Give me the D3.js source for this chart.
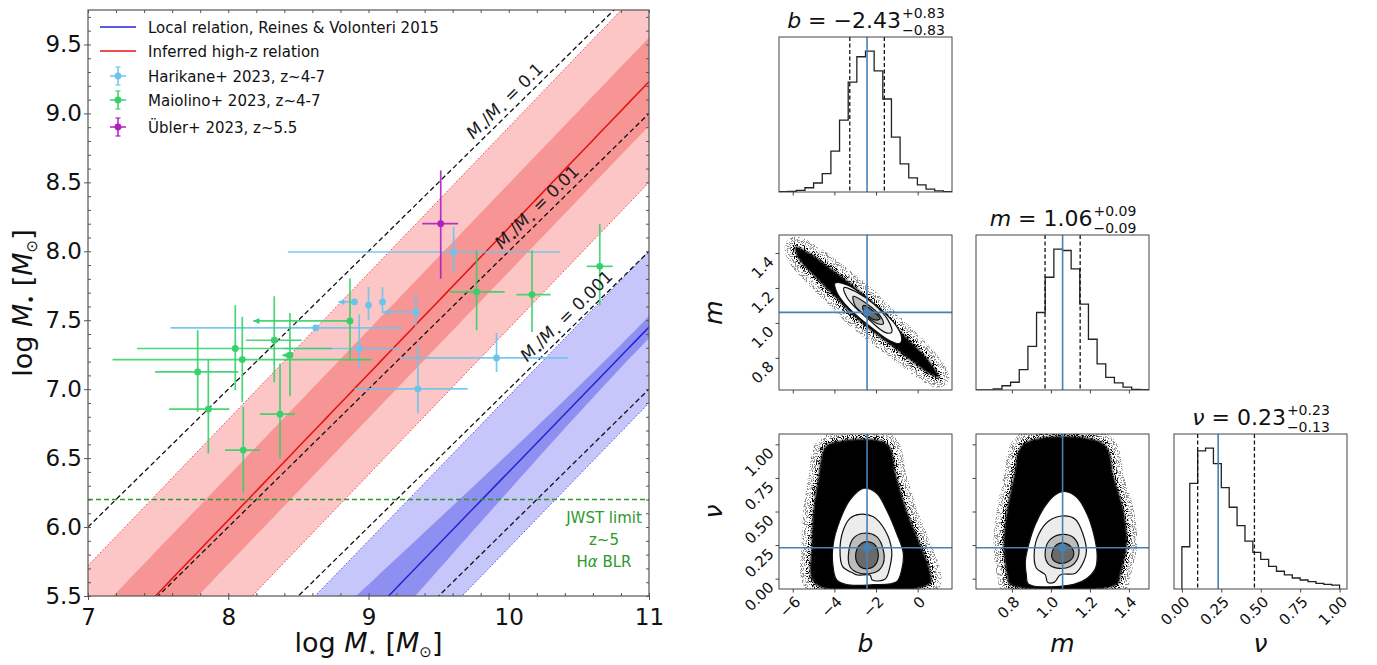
<!DOCTYPE html>
<html>
<head>
<meta charset="utf-8">
<script src="https://cdn.jsdelivr.net/npm/d3@7"></script>
<style>
body { margin: 0; background: #fff; }
svg text { font-family: "DejaVu Sans", sans-serif; }
</style>
</head>
<body>
<svg id="fig" width="1377" height="665"></svg>
<script>
// ---------- left panel data ----------
const xDomain = [7, 11];
const yDomain = [5.5, 9.75];
const xMajor = [7, 8, 9, 10, 11];
const yMajor = [5.5, 6.0, 6.5, 7.0, 7.5, 8.0, 8.5, 9.0, 9.5];

// inferred high-z relation  logMbh = m*logM* + b
const highzFit = [1.06, -2.43];
const highzBand = [0.32, 0.73];     // inner / outer half widths (dex)
// Reines & Volonteri 2015: alpha, beta, pivot, alpha err, beta err, scatter
const localFit = [7.45, 1.05, 11, 0.08, 0.11, 0.55];

const ratioOffsets = [-1, -2, -3, -4];
const ratioLabels = ["0.1", "0.01", "0.001"];
const ratioLabelX = [10.03, 10.26, 10.47];
const jwstLimit = 6.2;
const jwstText = ["JWST limit", "z~5", "Hα BLR"];

// points: [x, y, xlo, xhi, ylo, yhi, xuplim]
const harikane = [
  [9.607, 7.995, 8.425, 10.367, 7.85, 8.176, 0],
  [8.90, 7.633, 8.785, 8.90, 7.633, 7.633, 1],
  [9.00, 7.609, 9.00, 9.00, 7.50, 7.741, 0],
  [9.10, 7.633, 9.10, 9.10, 7.55, 7.74, 0],
  [9.338, 7.56, 9.106, 9.338, 7.45, 7.69, 1],
  [8.624, 7.444, 7.589, 9.238, 7.444, 7.444, 0],
  [8.934, 7.295, 8.394, 9.217, 7.15, 7.543, 0],
  [9.913, 7.227, 9.238, 10.42, 7.125, 7.408, 0],
  [9.352, 7.002, 8.90, 9.707, 6.824, 7.319, 0]
];
const maiolino = [
  [7.782, 7.125, 7.478, 8.072, 6.836, 7.428, 0],
  [7.858, 6.855, 7.578, 8.008, 6.534, 7.215, 0],
  [8.050, 7.295, 7.35, 8.737, 6.993, 7.609, 0],
  [8.100, 7.215, 7.175, 9.023, 6.908, 7.524, 0],
  [8.328, 7.355, 8.127, 8.524, 7.049, 7.674, 0],
  [8.440, 7.246, 8.385, 8.440, 6.949, 7.553, 1],
  [8.868, 7.495, 8.179, 8.868, 7.210, 7.802, 1],
  [8.369, 6.819, 8.226, 8.476, 6.498, 7.186, 0],
  [8.107, 6.558, 7.977, 8.226, 6.25, 6.872, 0],
  [9.771, 7.705, 9.581, 9.971, 7.428, 8.007, 0],
  [10.166, 7.686, 10.055, 10.298, 7.415, 8.007, 0],
  [10.649, 7.891, 10.556, 10.741, 7.609, 8.20, 0]
];
const ubler = [
  [9.515, 8.20, 9.383, 9.639, 7.802, 8.587, 0]
];

const legendNames = ["Local relation, Reines & Volonteri 2015", "Inferred high-z relation",
  "Harikane+ 2023, z~4-7", "Maiolino+ 2023, z~4-7", "Übler+ 2023, z~5.5"];

// ---------- corner data ----------
const bRange = [-6.66, 1.65];
const mRange = [0.616, 1.503];
const nuRangeX = [-0.05, 1.047];
const nuRangeY = [-0.077, 1.077];
const nuHistRange = [0, 1];

const bHist = [0.002, 0.005, 0.012, 0.03, 0.064, 0.13, 0.29, 0.51, 0.78, 0.96, 1.0, 0.86, 0.66, 0.39, 0.2, 0.1, 0.05, 0.02, 0.008, 0.003];
const mHist = [0, 0, 0.007, 0.03, 0.055, 0.145, 0.31, 0.55, 0.80, 1.0, 0.99, 0.86, 0.61, 0.36, 0.185, 0.09, 0.05, 0.02, 0.005, 0.002];
const nuHist = [0.30, 0.75, 0.98, 1.0, 0.89, 0.72, 0.58, 0.45, 0.34, 0.26, 0.21, 0.16, 0.126, 0.10, 0.078, 0.064, 0.052, 0.04, 0.033, 0.028];

const truths = [-2.43, 1.06, 0.23];
const bQuant = [-3.26, -1.60];
const mQuant = [0.97, 1.15];
const nuQuant = [0.10, 0.46];
const titleVals = [["b", "−2.43", "+0.83", "−0.83"], ["m", "1.06", "+0.09", "−0.09"], ["ν", "0.23", "+0.23", "−0.13"]];

const bTicks = [-6, -4, -2, 0];
const mTicks = [0.8, 1.0, 1.2, 1.4];
const nuTicks = [0, 0.25, 0.5, 0.75, 1.0];

const bmCloud = [[-5.89,1.436],[-5.17,1.398],[-4.37,1.330],[-3.41,1.244],[-2.45,1.148],[-1.49,1.032],[-0.53,0.917],[0.43,0.802],[1.04,0.687],[0.59,0.706],[-0.21,0.773],[-1.17,0.860],[-2.13,0.946],[-3.09,1.042],[-4.05,1.157],[-5.01,1.273],[-5.73,1.369]];
const bmC1 = [[-3.97,1.228],[-3.33,1.215],[-2.61,1.157],[-1.81,1.081],[-1.09,0.994],[-0.77,0.917],[-0.85,0.883],[-1.33,0.898],[-2.13,0.965],[-2.93,1.042],[-3.57,1.119],[-3.92,1.186]];
const bmC2 = [[-3.54,1.202],[-2.93,1.176],[-2.13,1.110],[-1.41,1.013],[-1.25,0.946],[-1.57,0.946],[-2.29,1.013],[-3.01,1.090],[-3.41,1.148]];
const bmC3 = [[-3.09,1.152],[-2.45,1.110],[-1.81,1.042],[-1.65,0.994],[-1.97,0.998],[-2.61,1.052],[-3.01,1.100]];
const bmC4 = [[-2.61,1.100],[-2.13,1.067],[-1.81,1.023],[-2.05,1.017],[-2.45,1.048],[-2.64,1.081]];

const bnCloud = [[-4.21,1.008],[-1.49,1.008],[-1.01,0.759],[-0.53,0.511],[0.11,0.263],[0.59,0.064],[0.59,-0.040],[-4.93,-0.040],[-5.09,0.263],[-5.01,0.511],[-4.77,0.759],[-4.53,0.958]];
const bnC1 = [[-2.58,0.673],[-1.97,0.636],[-1.49,0.511],[-1.01,0.338],[-0.69,0.189],[-0.77,0.064],[-1.01,-0.023],[-2.13,-0.045],[-3.41,-0.045],[-3.89,-0.010],[-4.08,0.114],[-4.05,0.263],[-3.73,0.437],[-3.25,0.586]];
const bnC2 = [[-2.80,0.479],[-2.13,0.461],[-1.57,0.362],[-1.25,0.213],[-1.33,0.089],[-1.57,-0.005],[-2.18,-0.010],[-2.29,0.027],[-2.88,0.027],[-3.09,0.040],[-3.60,0.089],[-3.73,0.213],[-3.57,0.362],[-3.25,0.449]];
const bnC3 = [[-2.61,0.338],[-1.97,0.313],[-1.65,0.213],[-1.65,0.114],[-1.97,0.052],[-2.77,0.040],[-3.25,0.089],[-3.30,0.213],[-3.09,0.300]];
const bnC4 = [[-2.45,0.275],[-2.05,0.251],[-1.89,0.164],[-2.13,0.089],[-2.61,0.077],[-2.93,0.126],[-2.93,0.213],[-2.69,0.263]];

const mnCloud = [[0.860,1.005],[1.271,1.005],[1.323,0.755],[1.374,0.504],[1.391,0.254],[1.357,0.029],[1.340,-0.046],[0.791,-0.046],[0.774,0.029],[0.757,0.254],[0.774,0.504],[0.809,0.755]];
const mnC1 = [[1.069,0.649],[1.134,0.604],[1.186,0.479],[1.220,0.329],[1.237,0.178],[1.229,0.079],[1.186,0.003],[1.117,-0.042],[0.886,-0.042],[0.874,0.029],[0.869,0.129],[0.886,0.254],[0.920,0.404],[0.971,0.542],[1.023,0.624]];
const mnC2 = [[1.066,0.467],[1.126,0.441],[1.165,0.329],[1.182,0.204],[1.169,0.129],[1.126,0.041],[1.049,0.029],[1.018,-0.026],[0.983,-0.026],[0.971,0.029],[0.925,0.079],[0.915,0.204],[0.937,0.329],[0.989,0.429]];
const mnC3 = [[1.066,0.329],[1.117,0.304],[1.143,0.228],[1.134,0.141],[1.100,0.091],[1.031,0.079],[0.983,0.116],[0.971,0.204],[0.997,0.292]];
const mnC4 = [[1.057,0.266],[1.100,0.241],[1.117,0.178],[1.092,0.129],[1.040,0.116],[1.006,0.154],[1.011,0.216],[1.031,0.254]];

// ---------- drawing ----------
const svg = d3.select("#fig");
const defs = svg.append("defs");

const colLocal = "#2323d8", colHighz = "#e41010";
const colHar = "#6cc4ec", colMai = "#36d16a", colUbl = "#b01fc0";
const colJwst = "#2a9a2a";

// ===== left panel =====
const plot = {left: 88, right: 649, top: 10, bottom: 596};
const x = d3.scaleLinear().domain(xDomain).range([plot.left, plot.right]);
const y = d3.scaleLinear().domain(yDomain).range([plot.bottom, plot.top]);

defs.append("clipPath").attr("id", "clipL").append("rect")
  .attr("x", plot.left).attr("y", plot.top)
  .attr("width", plot.right - plot.left).attr("height", plot.bottom - plot.top);

const L = svg.append("g").attr("clip-path", "url(#clipL)");
const xs = d3.range(xDomain[0], xDomain[1] + 1e-6, 0.05);

function band(fc, wUp, wLo) {
  const up = xs.map(v => [x(v), y(fc(v) + wUp(v))]);
  const lo = xs.slice().reverse().map(v => [x(v), y(fc(v) - wLo(v))]);
  return "M" + up.concat(lo).map(p => p.join(",")).join("L") + "Z";
}
function curve(fc) {
  return d3.line()(xs.map(v => [x(v), y(fc(v))]));
}

const fHigh = v => highzFit[0] * v + highzFit[1];
const fLocal = v => localFit[0] + localFit[1] * (v - localFit[2]);
const wLocal = v => Math.hypot(localFit[3], localFit[4] * (v - localFit[2]));

// red bands
L.append("path").attr("d", band(fHigh, () => highzBand[1], () => highzBand[1])).attr("fill", "#fdc6c6");
L.append("path").attr("d", band(fHigh, () => highzBand[0], () => highzBand[0])).attr("fill", "#f79494");
[1, -1].forEach(s => L.append("path").attr("d", curve(v => fHigh(v) + s * highzBand[1]))
  .attr("fill", "none").attr("stroke", colHighz).attr("stroke-width", 0.8).attr("stroke-dasharray", "1.5,2"));
L.append("path").attr("d", curve(fHigh)).attr("fill", "none").attr("stroke", colHighz).attr("stroke-width", 1.5);

// blue bands
L.append("path").attr("d", band(fLocal, () => localFit[5], () => localFit[5])).attr("fill", "#c6c6fa");
L.append("path").attr("d", band(fLocal, wLocal, wLocal)).attr("fill", "#8f8ff2");
[1, -1].forEach(s => L.append("path").attr("d", curve(v => fLocal(v) + s * localFit[5]))
  .attr("fill", "none").attr("stroke", colLocal).attr("stroke-width", 0.8).attr("stroke-dasharray", "1.5,2"));
L.append("path").attr("d", curve(fLocal)).attr("fill", "none").attr("stroke", colLocal).attr("stroke-width", 1.5);

// mass ratio lines
ratioOffsets.forEach(o => L.append("path").attr("d", curve(v => v + o))
  .attr("fill", "none").attr("stroke", "#111").attr("stroke-width", 1.3).attr("stroke-dasharray", "5,3"));

// jwst limit
L.append("line").attr("x1", plot.left).attr("x2", plot.right)
  .attr("y1", y(jwstLimit)).attr("y2", y(jwstLimit))
  .attr("stroke", colJwst).attr("stroke-width", 1.5).attr("stroke-dasharray", "5,3");

// data
function drawSet(data, color) {
  const g = L.append("g");
  data.forEach(d => {
    const [px, py, xl, xh, yl, yh, lim] = d;
    if (yh > yl) g.append("line").attr("x1", x(px)).attr("x2", x(px)).attr("y1", y(yl)).attr("y2", y(yh))
      .attr("stroke", color).attr("stroke-width", 1.7).attr("opacity", 0.9);
    if (xh > xl) g.append("line").attr("x1", x(xl)).attr("x2", x(xh)).attr("y1", y(py)).attr("y2", y(py))
      .attr("stroke", color).attr("stroke-width", 1.7).attr("opacity", 0.9);
    if (lim) {
      const ax = x(xl), ay = y(py);
      g.append("path").attr("d", `M${ax},${ay}L${ax + 6},${ay - 3}L${ax + 6},${ay + 3}Z`).attr("fill", color);
    }
  });
  g.selectAll("circle").data(data).join("circle")
    .attr("cx", d => x(d[0])).attr("cy", d => y(d[1])).attr("r", 3.4).attr("fill", color);
}
drawSet(harikane, colHar);
drawSet(maiolino, colMai);
drawSet(ubler, colUbl);

// ratio labels
const ang = Math.atan2(y(1) - y(0), x(1) - x(0)) * 180 / Math.PI;
ratioLabels.forEach((t, i) => {
  const vx = ratioLabelX[i], vy = vx + ratioOffsets[i];
  const g = svg.append("g").attr("transform", `translate(${x(vx)},${y(vy)}) rotate(${ang}) translate(0,-6)`);
  const tx = g.append("text").attr("text-anchor", "middle").attr("font-size", 17).attr("fill", "#1a1a1a");
  tx.append("tspan").attr("font-style", "italic").text("M");
  tx.append("tspan").attr("font-size", 10).attr("dy", 4).text("•");
  tx.append("tspan").attr("dy", -4).text("/");
  tx.append("tspan").attr("font-style", "italic").text("M");
  tx.append("tspan").attr("font-size", 10).attr("dy", 4).text("⋆");
  tx.append("tspan").attr("dy", -4).text(" = " + t);
});

// jwst text
jwstText.forEach((t, i) => {
  const tt = svg.append("text").attr("x", 604).attr("y", y(jwstLimit) + 24 + i * 22)
    .attr("text-anchor", "middle").attr("font-size", 15).attr("fill", colJwst);
  if (t.includes("α")) {
    tt.append("tspan").text("H");
    tt.append("tspan").attr("font-style", "italic").text("α");
    tt.append("tspan").text(" BLR");
  } else tt.text(t);
});

// frame and axes
svg.append("rect").attr("x", plot.left).attr("y", plot.top)
  .attr("width", plot.right - plot.left).attr("height", plot.bottom - plot.top)
  .attr("fill", "none").attr("stroke", "#555").attr("stroke-width", 1.2);

const xAxis = svg.append("g").attr("transform", `translate(0,${plot.bottom})`)
  .call(d3.axisBottom(x).tickValues(xMajor).tickFormat(d3.format("d")).tickSize(4));
const xMinor = svg.append("g").attr("transform", `translate(0,${plot.bottom})`)
  .call(d3.axisBottom(x).tickValues(d3.range(7, 11.001, 0.2)).tickFormat("").tickSize(-3));
const yAxis = svg.append("g").attr("transform", `translate(${plot.left},0)`)
  .call(d3.axisLeft(y).tickValues(yMajor).tickFormat(d3.format(".1f")).tickSize(4));
const yMinor = svg.append("g").attr("transform", `translate(${plot.left},0)`)
  .call(d3.axisLeft(y).tickValues(d3.range(5.5, 9.75, 0.1)).tickFormat("").tickSize(-3));
const yMinorR = svg.append("g").attr("transform", `translate(${plot.right},0)`)
  .call(d3.axisRight(y).tickValues(d3.range(5.5, 9.75, 0.1)).tickFormat("").tickSize(-3));
const xMinorT = svg.append("g").attr("transform", `translate(0,${plot.top})`)
  .call(d3.axisTop(x).tickValues(d3.range(7, 11.001, 0.2)).tickFormat("").tickSize(-3));
[xAxis, xMinor, yAxis, yMinor, yMinorR, xMinorT].forEach(a => {
  a.select(".domain").remove();
  a.selectAll("line").attr("stroke", "#555");
});
xAxis.selectAll("text").attr("font-size", 23).attr("fill", "#111").attr("dy", "0.95em")
  .style("font-family", "DejaVu Sans");
yAxis.selectAll("text").attr("font-size", 23).attr("fill", "#111").attr("x", -6)
  .style("font-family", "DejaVu Sans");

// axis titles
function massLabel(sel, sub) {
  sel.append("tspan").text("log ");
  sel.append("tspan").attr("font-style", "italic").text("M");
  sel.append("tspan").attr("font-size", 15).attr("dy", 5).text(sub);
  sel.append("tspan").attr("dy", -5).text(" [");
  sel.append("tspan").attr("font-style", "italic").text("M");
  sel.append("tspan").attr("font-size", 15).attr("dy", 5).text("⊙");
  sel.append("tspan").attr("dy", -5).text("]");
}
massLabel(svg.append("text").attr("x", (plot.left + plot.right) / 2).attr("y", 652)
  .attr("text-anchor", "middle").attr("font-size", 27).attr("fill", "#111"), "⋆");
massLabel(svg.append("text").attr("transform", `translate(32,${(plot.top + plot.bottom) / 2}) rotate(-90)`)
  .attr("text-anchor", "middle").attr("font-size", 27).attr("fill", "#111"), "•");

// legend
const lg = svg.append("g");
const legY = [27, 51, 76, 100, 127];
legendNames.forEach((n, i) => {
  lg.append("text").attr("x", 148).attr("y", legY[i] + 5.5).attr("font-size", 15).attr("fill", "#111").text(n);
});
[colLocal, colHighz].forEach((c, i) => lg.append("line").attr("x1", 100).attr("x2", 136)
  .attr("y1", legY[i]).attr("y2", legY[i]).attr("stroke", c).attr("stroke-width", 1.5));
[colHar, colMai, colUbl].forEach((c, i) => {
  const yy = legY[i + 2];
  lg.append("line").attr("x1", 110).attr("x2", 126).attr("y1", yy).attr("y2", yy).attr("stroke", c).attr("stroke-width", 1.5);
  lg.append("line").attr("x1", 118).attr("x2", 118).attr("y1", yy - 9).attr("y2", yy + 9).attr("stroke", c).attr("stroke-width", 1.5);
  [-9, 9].forEach(o => lg.append("line").attr("x1", 115.5).attr("x2", 120.5).attr("y1", yy + o).attr("y2", yy + o)
    .attr("stroke", c).attr("stroke-width", 1.2));
  lg.append("circle").attr("cx", 118).attr("cy", yy).attr("r", 3.4).attr("fill", c);
});

// ===== corner plot =====
const cols = [779, 976, 1174], cw = 173;
const rows = [37, 235, 434], rh = 155;
const colBlue = "#4682b4";

const f = defs.append("filter").attr("id", "speck").attr("x", "-30%").attr("y", "-30%").attr("width", "160%").attr("height", "160%");
f.append("feTurbulence").attr("type", "fractalNoise").attr("baseFrequency", 0.9).attr("numOctaves", 2).attr("seed", 4).attr("result", "n");
f.append("feColorMatrix").attr("in", "n").attr("type", "matrix")
  .attr("values", "0 0 0 0 0  0 0 0 0 0  0 0 0 0 0  0 0 0 14 -7.2").attr("result", "dots");
f.append("feComposite").attr("in", "SourceGraphic").attr("in2", "dots").attr("operator", "in");

const blur = defs.append("filter").attr("id", "soft");
blur.append("feGaussianBlur").attr("stdDeviation", 1.2);

function cellClip(id, c, r) {
  defs.append("clipPath").attr("id", id).append("rect")
    .attr("x", cols[c]).attr("y", rows[r]).attr("width", cw).attr("height", rh);
}

function frame(c, r) {
  svg.append("rect").attr("x", cols[c]).attr("y", rows[r]).attr("width", cw).attr("height", rh)
    .attr("fill", "none").attr("stroke", "#444").attr("stroke-width", 1);
}

function xTicks(c, r, sc, ticks, fmt, labels) {
  const a = svg.append("g").attr("transform", `translate(0,${rows[r] + rh})`)
    .call(d3.axisBottom(sc).tickValues(ticks).tickSize(3.5).tickFormat(""));
  a.select(".domain").remove();
  a.selectAll("line").attr("stroke", "#444");
  if (labels) ticks.forEach(t => {
    svg.append("text").attr("transform", `translate(${sc(t) + 5},${rows[r] + rh + 10}) rotate(-45)`)
      .attr("text-anchor", "end").attr("dy", "0.35em").attr("font-size", 15).attr("fill", "#111").text(fmt(t));
  });
}
function yTicks(c, r, sc, ticks, fmt, labels) {
  const a = svg.append("g").attr("transform", `translate(${cols[c]},0)`)
    .call(d3.axisLeft(sc).tickValues(ticks).tickSize(3.5).tickFormat(""));
  a.select(".domain").remove();
  a.selectAll("line").attr("stroke", "#444");
  if (labels) ticks.forEach(t => {
    svg.append("text").attr("transform", `translate(${cols[c] - 8},${sc(t) + 6}) rotate(-45)`)
      .attr("text-anchor", "end").attr("dy", "0.35em").attr("font-size", 15).attr("fill", "#111").text(fmt(t));
  });
}

function histCell(c, hist, hRange, sxDomain, q, truth, id) {
  const r = c;
  cellClip(id, c, r);
  const sx = d3.scaleLinear().domain(sxDomain).range([cols[c], cols[c] + cw]);
  const sy = d3.scaleLinear().domain([0, 1.1]).range([rows[r] + rh, rows[r]]);
  const g = svg.append("g").attr("clip-path", `url(#${id})`);
  const n = hist.length, step = (hRange[1] - hRange[0]) / n;
  const pts = [[sx(hRange[0]), sy(0)]];
  hist.forEach((h, i) => {
    pts.push([sx(hRange[0] + i * step), sy(h)]);
    pts.push([sx(hRange[0] + (i + 1) * step), sy(h)]);
  });
  pts.push([sx(hRange[1]), sy(0)]);
  g.append("path").attr("d", d3.line()(pts)).attr("fill", "none").attr("stroke", "#222").attr("stroke-width", 1.3);
  q.forEach(v => g.append("line").attr("x1", sx(v)).attr("x2", sx(v)).attr("y1", rows[r]).attr("y2", rows[r] + rh)
    .attr("stroke", "#111").attr("stroke-width", 1.3).attr("stroke-dasharray", "4,2.5"));
  g.append("line").attr("x1", sx(truth)).attr("x2", sx(truth)).attr("y1", rows[r]).attr("y2", rows[r] + rh)
    .attr("stroke", colBlue).attr("stroke-width", 1.6);
  frame(c, r);
  return sx;
}

const closed = d3.line().curve(d3.curveCatmullRomClosed.alpha(0.5));
const greys = ["#ffffff", "#ececec", "#bdbdbd", "#6a6a6a"];

function cell2D(c, r, sx, sy, cloud, contours, tx, ty, id) {
  cellClip(id, c, r);
  const g = svg.append("g").attr("clip-path", `url(#${id})`);
  const P = pts => pts.map(p => [sx(p[0]), sy(p[1])]);
  g.append("path").attr("d", closed(P(cloud))).attr("fill", "#000").attr("stroke", "#000")
    .attr("stroke-width", 20).attr("stroke-linejoin", "round").attr("opacity", 0.45).attr("filter", "url(#speck)");
  g.append("path").attr("d", closed(P(cloud))).attr("fill", "#000").attr("stroke", "#000")
    .attr("stroke-width", 8).attr("stroke-linejoin", "round").attr("filter", "url(#speck)");
  g.append("path").attr("d", closed(P(cloud))).attr("fill", "#000").attr("filter", "url(#soft)");
  contours.forEach((ct, i) => {
    g.append("path").attr("d", closed(P(ct))).attr("fill", greys[i])
      .attr("stroke", "#111").attr("stroke-width", 1.2);
  });
  g.append("line").attr("x1", sx(tx)).attr("x2", sx(tx)).attr("y1", rows[r]).attr("y2", rows[r] + rh)
    .attr("stroke", colBlue).attr("stroke-width", 1.6);
  g.append("line").attr("x1", cols[c]).attr("x2", cols[c] + cw).attr("y1", sy(ty)).attr("y2", sy(ty))
    .attr("stroke", colBlue).attr("stroke-width", 1.6);
  g.append("circle").attr("cx", sx(tx)).attr("cy", sy(ty)).attr("r", 4).attr("fill", colBlue);
  frame(c, r);
}

// histograms
const sxB = histCell(0, bHist, bRange, bRange, bQuant, truths[0], "h0");
const sxM = histCell(1, mHist, mRange, mRange, mQuant, truths[1], "h1");
const sxN = histCell(2, nuHist, nuHistRange, nuRangeX, nuQuant, truths[2], "h2");

const syM = d3.scaleLinear().domain(mRange).range([rows[1] + rh, rows[1]]);
const syN = d3.scaleLinear().domain(nuRangeY).range([rows[2] + rh, rows[2]]);

cell2D(0, 1, sxB, syM, bmCloud, [bmC1, bmC2, bmC3, bmC4], truths[0], truths[1], "c10");
cell2D(0, 2, sxB, syN, bnCloud, [bnC1, bnC2, bnC3, bnC4], truths[0], truths[2], "c20");
cell2D(1, 2, sxM, syN, mnCloud, [mnC1, mnC2, mnC3, mnC4], truths[1], truths[2], "c21");

const fb = d3.format("d"), fm = d3.format(".1f"), fn = d3.format(".2f");
xTicks(0, 0, sxB, bTicks, fb, false);
xTicks(0, 1, sxB, bTicks, fb, false);
xTicks(0, 2, sxB, bTicks, fb, true);
xTicks(1, 1, sxM, mTicks, fm, false);
xTicks(1, 2, sxM, mTicks, fm, true);
xTicks(2, 2, sxN, nuTicks, fn, true);
yTicks(0, 1, syM, mTicks, fm, true);
yTicks(0, 2, syN, nuTicks, fn, true);
yTicks(1, 2, syN, nuTicks, fn, false);

// titles with super/subscripts
titleVals.forEach((tv, i) => {
  const cx = cols[i] + cw / 2, base = rows[i] - 9;
  const t = svg.append("text").attr("y", base).attr("font-size", 22).attr("fill", "#111");
  t.append("tspan").attr("font-style", "italic").text(tv[0]);
  t.append("tspan").text(" = " + tv[1]);
  const w1 = t.node().getComputedTextLength();
  const sup = svg.append("text").attr("y", base - 10).attr("font-size", 14).attr("fill", "#111").text(tv[2]);
  const sub = svg.append("text").attr("y", base + 7).attr("font-size", 14).attr("fill", "#111").text(tv[3]);
  const w2 = Math.max(sup.node().getComputedTextLength(), sub.node().getComputedTextLength());
  const x0 = cx - (w1 + w2) / 2;
  t.attr("x", x0);
  sup.attr("x", x0 + w1 + 1);
  sub.attr("x", x0 + w1 + 1);
});

// axis labels
["b", "m", "ν"].forEach((s, i) => {
  svg.append("text").attr("x", cols[i] + cw / 2).attr("y", 652).attr("text-anchor", "middle")
    .attr("font-size", 25).attr("font-style", "italic").attr("fill", "#111").text(s);
});
[["m", 1], ["ν", 2]].forEach(([s, r]) => {
  svg.append("text").attr("transform", `translate(722,${rows[r] + rh / 2}) rotate(-90)`)
    .attr("text-anchor", "middle").attr("font-size", 25).attr("font-style", "italic").attr("fill", "#111").text(s);
});
</script>
</body>
</html>
